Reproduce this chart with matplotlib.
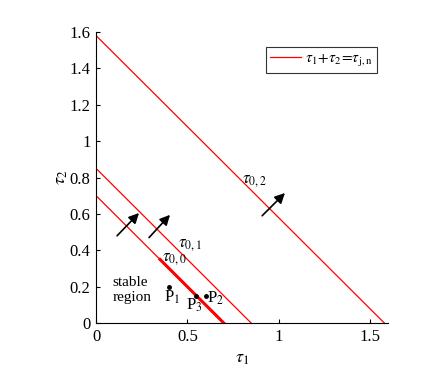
import matplotlib
matplotlib.use("Agg")
import matplotlib.pyplot as plt
import numpy as np

plt.rcParams['font.family'] = ['Liberation Serif', 'DejaVu Serif']
plt.rcParams['mathtext.fontset'] = 'stix'

# line levels tau1 + tau2 = tau_{j,n}
levels = [0.7, 0.85, 1.58]
level_names = [r'$\tau_{0,0}$', r'$\tau_{0,1}$', r'$\tau_{0,2}$']
label_pos = [(0.36, 0.34), (0.45, 0.42), (0.80, 0.77)]

# thick segment on the first line
seg_x = [0.35, 0.7]

# points
pts_x = [0.4, 0.6, 0.55]
pts_y = [0.2, 0.15, 0.15]
pts_names = ['P$_1$', 'P$_2$', 'P$_3$']
pts_label = [(0.37, 0.12), (0.61, 0.115), (0.49, 0.075)]

# arrows (tail, head)
arrows = [((0.115, 0.48), (0.235, 0.605)),
          ((0.29, 0.47), (0.405, 0.595)),
          ((0.91, 0.59), (1.035, 0.715))]

fig = plt.figure(figsize=(4.45, 3.81), dpi=100)
ax = fig.add_axes([0.216, 0.152, 0.656, 0.764])

for i, c in enumerate(levels):
    x = np.array([0, c])
    ax.plot(x, c - x, color='red', lw=0.9,
            label=r'$\tau_1\!+\!\tau_2\!=\!\tau_{\mathrm{j,n}}$' if i == 0 else None)
    ax.text(label_pos[i][0], label_pos[i][1], level_names[i], fontsize=12)

sx = np.array(seg_x)
ax.plot(sx, levels[0] - sx, color='red', lw=2.2)

ax.plot(pts_x, pts_y, 'k.', ms=5, zorder=5)
for (lx, ly), n in zip(pts_label, pts_names):
    ax.text(lx, ly, n, fontsize=12)

for tail, head in arrows:
    ax.annotate('', xy=head, xytext=tail,
                arrowprops=dict(arrowstyle='-|>', color='k', lw=1.2,
                                mutation_scale=15, shrinkA=0, shrinkB=0))

ax.text(0.09, 0.12, 'stable\nregion', fontsize=11, linespacing=1.2)

ax.set_xlim(0, 1.6)
ax.set_ylim(0, 1.6)
ax.set_xticks([0, 0.5, 1, 1.5])
ax.set_xticklabels(['0', '0.5', '1', '1.5'])
ax.set_yticks(np.arange(0, 1.61, 0.2))
ax.set_yticklabels(['0', '0.2', '0.4', '0.6', '0.8', '1', '1.2', '1.4', '1.6'])
ax.tick_params(direction='in', labelsize=12, length=3, pad=4)
ax.spines['top'].set_visible(False)
ax.spines['right'].set_visible(False)
ax.set_xlabel(r'$\tau_1$', fontsize=13, labelpad=4)
ax.set_ylabel(r'$\tau_2$', fontsize=13, labelpad=0)

leg = ax.legend(loc='upper right', fontsize=11, fancybox=False,
                edgecolor='k', handlelength=2.0, borderpad=0.3,
                handletextpad=0.3, bbox_to_anchor=(0.99, 0.975))
leg.get_frame().set_linewidth(0.8)

plt.savefig('out.png', dpi=100)
